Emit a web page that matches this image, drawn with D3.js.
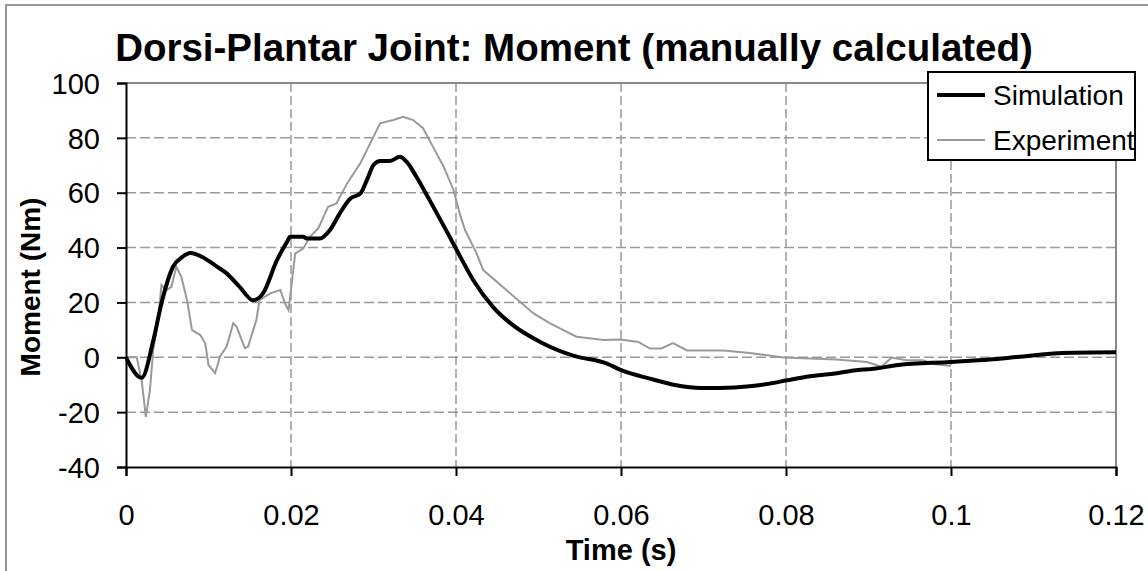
<!DOCTYPE html>
<html>
<head>
<meta charset="utf-8">
<script src="https://cdn.jsdelivr.net/npm/d3@7"></script>
<style>
  body { margin: 0; background: #fff; }
  text { font-family: "Liberation Sans", Arial, sans-serif; }
</style>
</head>
<body>
<div id="chart"></div>
<script>
// Simulation (black) - time in s, moment in Nm
const simTime = [0, 0.0019, 0.0033, 0.0043, 0.0057, 0.0068, 0.0078, 0.0093, 0.0108, 0.0122, 0.0138, 0.0154, 0.0166, 0.0183, 0.0195, 0.0199, 0.0215, 0.0219, 0.0235, 0.0247, 0.0259, 0.0272, 0.0284, 0.0292, 0.0300, 0.0308, 0.0320, 0.0332, 0.0340, 0.0352, 0.0368, 0.0385, 0.0401, 0.0421, 0.0445, 0.0469, 0.0502, 0.0542, 0.0583, 0.0601, 0.0635, 0.0667, 0.0696, 0.0720, 0.0756, 0.0780, 0.0801, 0.0829, 0.0857, 0.0882, 0.0906, 0.0936, 0.0999, 0.1047, 0.1080, 0.1136, 0.1200];
const simMoment = [0, -7.5, 6, 19.7, 33, 36.5, 38, 36.5, 33.5, 30.6, 25.6, 20.8, 23.3, 35.4, 42, 43.9, 43.9, 43.3, 43.3, 46.3, 52.4, 57.9, 59.7, 64.6, 70.1, 71.6, 71.6, 73.1, 71.3, 65.8, 57.3, 48, 39, 28.1, 18.3, 11.7, 5.6, 0.6, -2.3, -4.8, -7.8, -10.2, -11.2, -11.2, -10.6, -9.6, -8.4, -6.9, -6, -4.8, -4.2, -2.8, -1.7, -0.8, 0.1, 1.6, 1.8];

// Experiment (grey)
const expTime = [0, 0.0013, 0.0019, 0.0024, 0.0029, 0.0033, 0.0039, 0.0043, 0.0049, 0.0055, 0.0061, 0.0067, 0.0074, 0.0080, 0.0090, 0.0096, 0.0100, 0.0108, 0.0114, 0.0122, 0.0130, 0.0134, 0.0144, 0.0148, 0.0158, 0.0162, 0.0175, 0.0187, 0.0193, 0.0197, 0.0201, 0.0205, 0.0215, 0.0223, 0.0233, 0.0245, 0.0255, 0.0268, 0.0284, 0.0296, 0.0308, 0.0324, 0.0336, 0.0348, 0.0360, 0.0372, 0.0385, 0.0397, 0.0405, 0.0411, 0.0425, 0.0433, 0.0461, 0.0494, 0.0514, 0.0546, 0.0579, 0.0599, 0.0621, 0.0635, 0.0649, 0.0663, 0.0680, 0.0724, 0.0756, 0.0797, 0.0861, 0.0898, 0.0916, 0.0928, 0.0946, 0.0966, 0.0979, 0.1000];
const expMoment = [0, 0, -8.4, -21.7, -12, 2.7, 13.6, 26.4, 24.5, 25.7, 33, 29.4, 20.9, 9.9, 8.1, 5.1, -2.8, -5.8, 0.3, 3.9, 12.4, 11.2, 3.3, 3.9, 13.6, 20.9, 23.3, 24.5, 19.6, 17.2, 27, 37.8, 39.7, 43.9, 47, 54.9, 56.1, 63.4, 70.7, 78, 85.3, 86.5, 87.7, 86.5, 83.5, 76.8, 69.5, 61, 51.9, 46.4, 37.8, 31.8, 24.5, 16, 12.4, 7.5, 6.3, 6.5, 5.6, 3.2, 3.2, 5.2, 2.5, 2.5, 1.6, -0.1, -0.8, -1.7, -3.4, -0.1, -1.1, -1.1, -2.5, -3.2];

const xTicks = [0, 0.02, 0.04, 0.06, 0.08, 0.1, 0.12];
const yTicks = [-40, -20, 0, 20, 40, 60, 80, 100];
const seriesNames = ['Simulation', 'Experiment'];

const W = 1148, H = 571;
const margin = { top: 83, right: 32, bottom: 104, left: 126 },
      width = W - margin.left - margin.right,
      height = H - margin.top - margin.bottom;

const svg = d3.select('#chart').append('svg')
  .attr('width', W).attr('height', H);

svg.append('rect').attr('width', W).attr('height', H).attr('fill', '#fff');
// outer frame (only top/left visible)
svg.append('rect')
  .attr('x', 6).attr('y', 5).attr('width', 1300).attr('height', 700)
  .attr('fill', 'none').attr('stroke', '#999').attr('stroke-width', 2);

const g = svg.append('g').attr('transform', `translate(${margin.left},${margin.top})`);

const x = d3.scaleLinear().domain([0, 0.12]).range([0, width]);
const y = d3.scaleLinear().domain([-40, 100]).range([height, 0]);

// grid
g.append('g').selectAll('line').data(yTicks.filter(d => d > -40 && d < 100)).join('line')
  .attr('x1', 0).attr('x2', width)
  .attr('y1', d => y(d)).attr('y2', d => y(d))
  .attr('stroke', '#999').attr('stroke-width', 1.5).attr('stroke-dasharray', '10,4');
g.append('g').selectAll('line').data(xTicks.filter(d => d > 0 && d < 0.12)).join('line')
  .attr('y1', 0).attr('y2', height)
  .attr('x1', d => x(d)).attr('x2', d => x(d))
  .attr('stroke', '#999').attr('stroke-width', 1.5).attr('stroke-dasharray', '9,4');

// top + right border
g.append('line').attr('x1', 0).attr('x2', width).attr('y1', 0).attr('y2', 0)
  .attr('stroke', '#888').attr('stroke-width', 2);
g.append('line').attr('x1', width).attr('x2', width).attr('y1', 0).attr('y2', height)
  .attr('stroke', '#888').attr('stroke-width', 2);

// lines
const line = d3.line().x(d => x(d[0])).y(d => y(d[1]));
g.append('path')
  .datum(d3.zip(expTime, expMoment))
  .attr('d', line)
  .attr('fill', 'none').attr('stroke', '#999').attr('stroke-width', 2);
g.append('path')
  .datum(d3.zip(simTime, simMoment))
  .attr('d', line.curve(d3.curveMonotoneX))
  .attr('fill', 'none').attr('stroke', '#000').attr('stroke-width', 4)
  .attr('stroke-linejoin', 'round');

// axes
const xAxis = g.append('g').attr('transform', `translate(0,${height})`)
  .call(d3.axisBottom(x).tickValues(xTicks).tickFormat(d => String(d)).tickSize(9).tickPadding(28));
const yAxis = g.append('g')
  .call(d3.axisLeft(y).tickValues(yTicks).tickFormat(d => String(d)).tickSize(9).tickPadding(17));
[xAxis, yAxis].forEach(a => {
  a.select('.domain').attr('stroke', '#000').attr('stroke-width', 2);
  a.selectAll('.tick line').attr('stroke', '#000').attr('stroke-width', 2);
  a.selectAll('.tick text').attr('fill', '#000')
    .style('font-size', '29px').style('font-family', '"Liberation Sans", Arial, sans-serif');
});
yAxis.selectAll('.tick text').attr('dy', '0.35em');
xAxis.selectAll('.tick text').attr('dy', '0.71em');

// titles
svg.append('text').attr('x', 574).attr('y', 61).attr('text-anchor', 'middle')
  .style('font-size', '38.5px').style('font-weight', 'bold')
  .text('Dorsi-Plantar Joint: Moment (manually calculated)');
svg.append('text').attr('x', margin.left + width / 2).attr('y', 560).attr('text-anchor', 'middle')
  .style('font-size', '29px').style('font-weight', 'bold')
  .text('Time (s)');
svg.append('text').attr('transform', 'translate(40,287) rotate(-90)').attr('text-anchor', 'middle')
  .style('font-size', '28px').style('font-weight', 'bold')
  .text('Moment (Nm)');

// legend
const leg = svg.append('g').attr('transform', 'translate(928,72)');
leg.append('rect').attr('width', 207).attr('height', 88)
  .attr('fill', '#fff').attr('stroke', '#000').attr('stroke-width', 2);
const legStyles = [{ c: '#000', w: 4 }, { c: '#999', w: 2 }];
seriesNames.forEach((name, i) => {
  const yy = 23 + i * 45;
  leg.append('line').attr('x1', 9).attr('x2', 57).attr('y1', yy).attr('y2', yy)
    .attr('stroke', legStyles[i].c).attr('stroke-width', legStyles[i].w);
  leg.append('text').attr('x', 65).attr('y', yy + 10)
    .style('font-size', '28px').text(name);
});
</script>
</body>
</html>
